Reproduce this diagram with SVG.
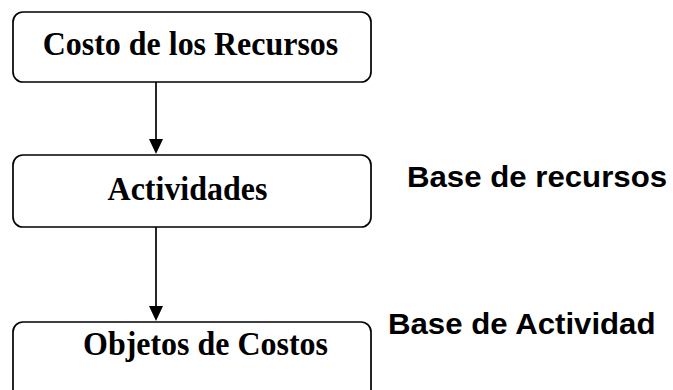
<svg xmlns="http://www.w3.org/2000/svg" width="673" height="390" viewBox="0 0 673 390">
<style>
.box{fill:#fff;stroke:#000;stroke-width:1.7}
.t{font-family:"Liberation Serif","Times New Roman",serif;font-weight:bold;font-size:34px;fill:#000;text-anchor:middle}
.lbl{font-family:"Liberation Sans",Arial,sans-serif;font-weight:bold;font-size:30px;fill:#000}
.c{stroke:#000;stroke-width:1.7;fill:none}
.h{fill:#000}
</style>
<rect width="673" height="390" fill="#fff"/>
<g id="connectors">
<line class="c" x1="156" y1="82" x2="156" y2="139"/>
<path class="h" d="M149,139 L163,139 L156,154 Z"/>
<line class="c" x1="156" y1="227" x2="156" y2="306"/>
<path class="h" d="M149,306 L163,306 L156,321 Z"/>
</g>
<g id="costo">
<rect class="box" x="13" y="12" width="358" height="70" rx="10"/>
<text class="t" transform="translate(190.5,55) scale(0.94,1)">Costo de los Recursos</text>
</g>
<g id="actividades">
<rect class="box" x="13" y="155" width="358" height="72" rx="10"/>
<text class="t" transform="translate(187.5,200) scale(0.94,1)">Actividades</text>
</g>
<g id="objetos">
<rect class="box" x="13" y="322" width="358" height="80" rx="10"/>
<text class="t" transform="translate(205.5,355) scale(0.94,1)">Objetos de Costos</text>
</g>
<g id="labels">
<text class="lbl" transform="translate(407,187) scale(1.04,1)">Base de recursos</text>
<text class="lbl" transform="translate(388,334) scale(1.04,1)">Base de Actividad</text>
</g>
</svg>
